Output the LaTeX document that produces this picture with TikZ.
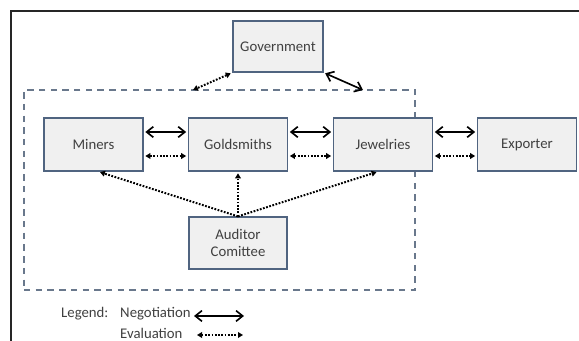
\documentclass[tikz,border=0pt]{standalone}
\usepackage{fontspec}
\setmainfont{Carlito}
\usetikzlibrary{arrows.meta}

\definecolor{boxline}{RGB}{80,100,128}
\definecolor{boxfill}{RGB}{240,240,240}
\definecolor{grpline}{RGB}{105,120,140}
\definecolor{txt}{RGB}{64,64,64}

\tikzset{
    actor/.style={draw=boxline, fill=boxfill, line width=1pt, minimum width=2.97cm,
        minimum height=1.59cm, text=txt, align=center, font=\fontsize{12.6}{15}\selectfont},
    legtext/.style={anchor=west, text=txt, inner sep=0pt, font=\fontsize{12.6}{15}\selectfont},
    nego/.style={{Straight Barb[length=2mm,width=3.2mm]}-{Straight Barb[length=2mm,width=3.2mm]},
        line width=1.4pt, shorten <=1.5pt, shorten >=1.5pt},
    eval/.style={{Triangle[length=1.5mm,width=1.7mm]}-{Triangle[length=1.5mm,width=1.7mm]},
        line width=1.7pt, dash pattern=on 1.5pt off 1.3pt, shorten <=1.5pt, shorten >=1.5pt},
    evalone/.style={-{Triangle[length=1.5mm,width=1.7mm]},
        line width=1.7pt, dash pattern=on 1.5pt off 1.3pt, shorten >=1.5pt},
}

\begin{document}
\begin{tikzpicture}[x=0.03cm, y=0.03cm]
        \useasboundingbox (0,0) rectangle (579,341);

        % outer frame
        \draw[line width=1.3pt, black!85] (11,0) -- (11,330) -- (579,330);

        % group of local actors
        \node[draw=grpline, line width=1.3pt, dash pattern=on 5.5pt off 4.5pt,
            minimum width=11.73cm, minimum height=6cm] (grp) at (219.5,151) {};

        \node[actor, minimum width=2.7cm, minimum height=1.53cm] (gov) at (278,294.5) {Government};

        \node[actor] (mi) at (93.5,196.5) {Miners};
        \node[actor] (go) at (238,196.5) {Goldsmiths};
        \node[actor] (je) at (383,196.5) {Jewelries};
        \node[actor] (ex) at (527,196.5) {Exporter};

        \node[actor, minimum width=2.94cm, minimum height=1.56cm] (au) at (238,98) {Auditor\\Comittee};

        \draw[nego] ([yshift=3.75mm]mi.east) -- ([yshift=3.75mm]go.west);
        \draw[eval] ([yshift=-3.45mm]mi.east) -- ([yshift=-3.45mm]go.west);

        \draw[nego] ([yshift=3.75mm]go.east) -- ([yshift=3.75mm]je.west);
        \draw[eval] ([yshift=-3.45mm]go.east) -- ([yshift=-3.45mm]je.west);

        \draw[nego] ([yshift=3.75mm]je.east) -- ([yshift=3.75mm]ex.west);
        \draw[eval] ([yshift=-3.45mm]je.east) -- ([yshift=-3.45mm]ex.west);

        % government to the group
        \coordinate (g1) at (193,251);
        \coordinate (g2) at (363,251);
        \draw[eval, shorten >=0pt] (gov.south west) -- (g1);
        \draw[nego, shorten >=0pt] (gov.south east) -- (g2);

        % auditor evaluates everyone
        \draw[evalone] (au.north) -- (mi.-80);
        \draw[evalone] (au.north) -- (go.south);
        \draw[evalone] (au.north) -- (je.-100);

        % legend
        \node[legtext] (leg) at (61,27) {Legend:};
        \node[legtext] (neg) at (120,27) {Negotiation};
        \node[legtext] (eva) at (120,8) {Evaluation};
        \coordinate (n1) at (194,25);
        \coordinate (n2) at (244,25);
        \coordinate (e1) at (197,6);
        \coordinate (e2) at (243,6);
        \draw[nego, shorten <=0pt, shorten >=0pt] (n1) -- (n2);
        \draw[eval, shorten <=0pt, shorten >=0pt] (e1) -- (e2);

    \end{tikzpicture}
\end{document}
